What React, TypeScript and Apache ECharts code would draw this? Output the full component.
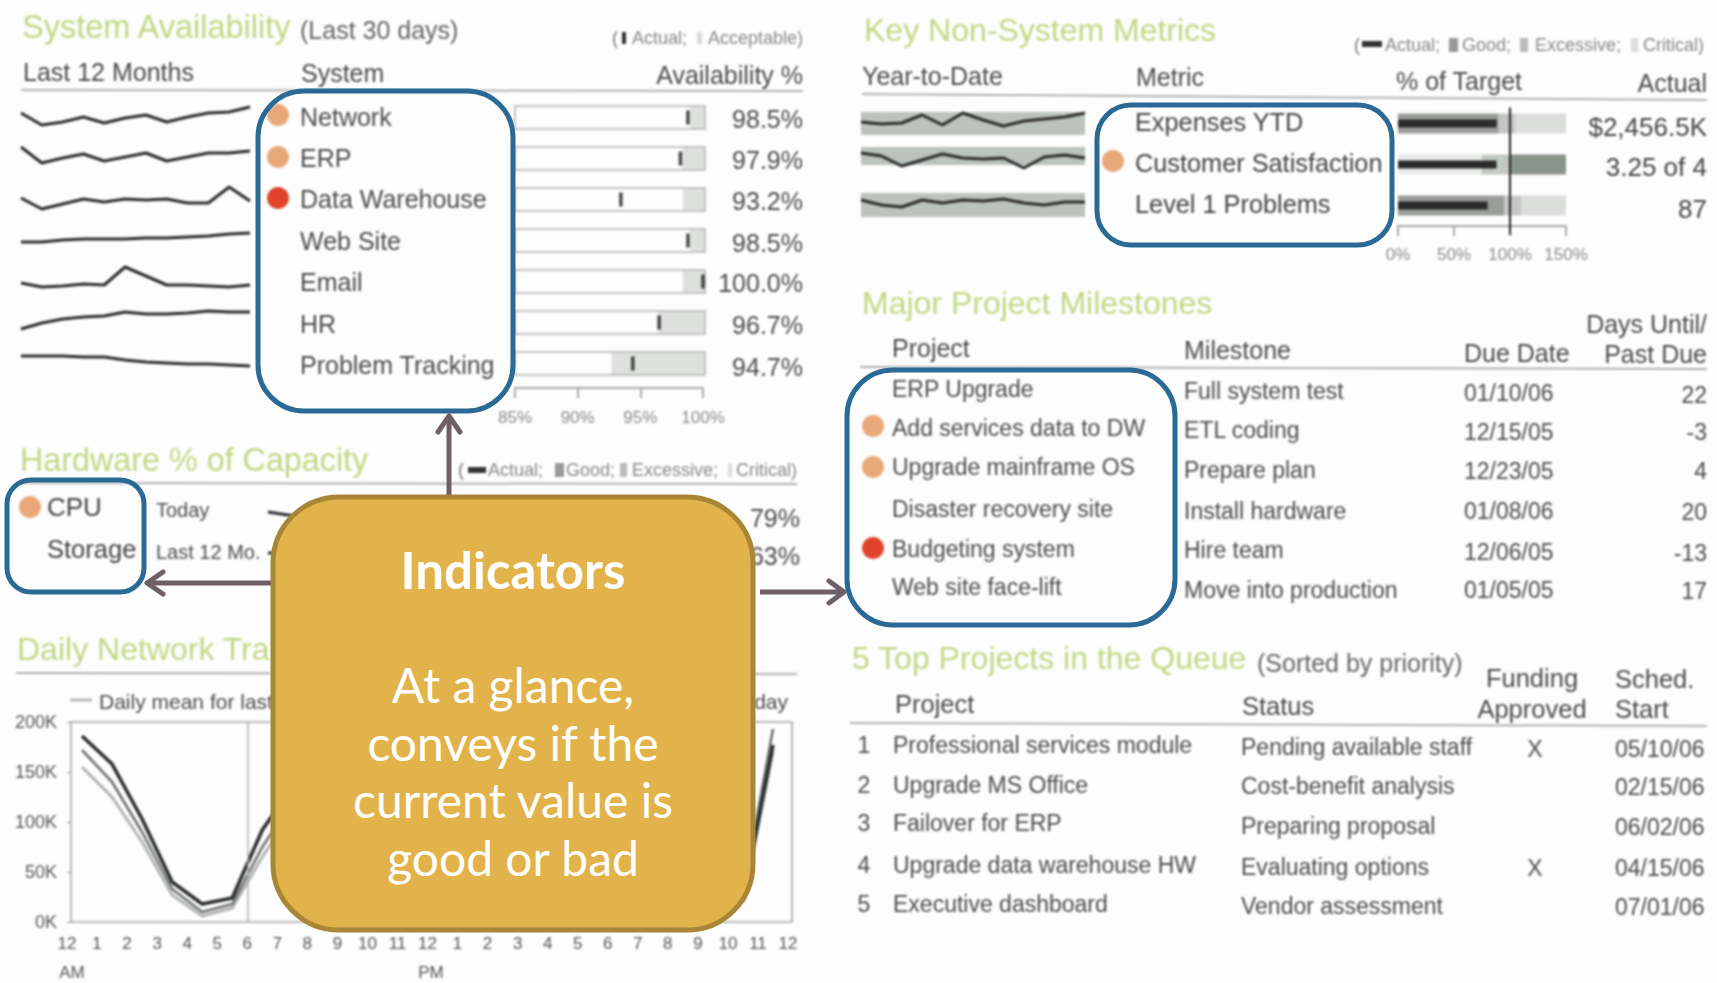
import React, { useEffect, useRef } from "react";
import * as echarts from "echarts";

// ---------- data ----------
const systems = ["Network", "ERP", "Data Warehouse", "Web Site", "Email", "HR", "Problem Tracking"];
const availability = [98.8, 98.2, 93.45, 98.8, 100.0, 96.5, 94.4];
const availabilityLabels = ["98.5%", "97.9%", "93.2%", "98.5%", "100.0%", "96.7%", "94.7%"];
const acceptableFrom = [99, 98.4, 98.4, 99, 98.4, 96.4, 92.7];
const availTicks = [85, 90, 95, 100];
const sysTrends = [
  [47, 35, 38, 43, 37, 42, 45, 38, 43, 47, 48, 53],
  [33, 17, 22, 26, 19, 23, 27, 19, 23, 27, 27, 29],
  [22, 11, 16, 21, 18, 21, 20, 21, 17, 17, 33, 19],
  [18, 18, 20, 21, 21, 21, 22, 22, 23, 24, 26, 27],
  [17, 13, 14, 16, 15, 33, 24, 15, 15, 14, 13, 15],
  [11, 17, 21, 23, 24, 28, 26, 26, 27, 29, 28, 28],
  [24, 24, 24, 23, 23, 20, 18, 17, 16, 16, 15, 14],
];
const metrics = ["Expenses YTD", "Customer Satisfaction", "Level 1 Problems"];
const metricActualText = ["$2,456.5K", "3.25 of 4", "87"];
const metricPct = [88, 88, 80];
const metricSegA = [90, 75, 95];
const metricSegB = [15, 25, 15];
const metricSegC = [45, 50, 40];
const metricTrends = [
  [28, 26, 27, 35, 25, 37, 30, 24, 29, 31, 33, 37],
  [37, 34, 24, 30, 36, 32, 31, 32, 22, 33, 35, 32],
  [40, 35, 33, 40, 37, 40, 39, 41, 37, 35, 38, 38],
];
const metricBands = [[15, 38], [25, 43], [23, 47]];
const cpuToday = [36, 30, 26, 24];
const storageYear = [30, 30, 29, 31];
const hourLabels = ["12", "1", "2", "3", "4", "5", "6", "7", "8", "9", "10", "11", "12", "1", "2", "3", "4", "5", "6", "7", "8", "9", "10", "11", "12"];
const trafficDark = [186, 158, 103, 40, 18, 24, 92, 135, 150, 160, 165, 170, 160, 165, 170, 165, 155, 140, 130, 135, 145, 125, 22, 177];
const trafficMid = [172, 140, 90, 33, 10, 18, 75, 120, 140, 150, 155, 160, 152, 155, 160, 155, 145, 132, 122, 125, 135, 115, 28, 193];
const trafficLight = [155, 125, 80, 27, 6, 14, 65, 110, 130, 140, 145, 150, 142, 145, 150, 145, 135, 122, 112, 115, 125, 105, 20, 170];
const trafficTicks = [0, 50, 100, 150, 200];
const mileProjects = ["ERP Upgrade", "Add services data to DW", "Upgrade mainframe OS", "Disaster recovery site", "Budgeting system", "Web site face-lift"];
const mileNames = ["Full system test", "ETL coding", "Prepare plan", "Install hardware", "Hire team", "Move into production"];
const mileDates = ["01/10/06", "12/15/05", "12/23/05", "01/08/06", "12/06/05", "01/05/05"];
const mileDays = ["22", "-3", "4", "20", "-13", "17"];
const queueProjects = ["Professional services module", "Upgrade MS Office", "Failover for ERP", "Upgrade data warehouse HW", "Executive dashboard"];
const queueStatus = ["Pending available staff", "Cost-benefit analysis", "Preparing proposal", "Evaluating options", "Vendor assessment"];
const queueFunding = ["X", "", "", "X", ""];
const queueStart = ["05/10/06", "02/15/06", "06/02/06", "04/15/06", "07/01/06"];
const calloutLines = ["At a glance,", "conveys if the", "current value is", "good or bad"];

// ---------- layout & style ----------
const W = 1717, H = 983;
const SANS = "Liberation Sans";
const TITLE = "#c2d883", TEXT = "#4c4c4c", ORANGE = "#e9a878", RED = "#e0432b", RULE = "#b0b2b0";
const BLUE = "#2a6a94", ARROW = "#6e5f67";

function T(text: string, x: number, y: number, size: number, fill = TEXT, align = "left", extra: any = {}) {
  return {
    type: "text", x, y, silent: true,
    style: { text, fontSize: size, fontFamily: SANS, fill, align, verticalAlign: "middle", ...extra },
  };
}
const Dot = (x: number, y: number, fill: string) => ({
  type: "circle", silent: true, shape: { cx: x, cy: y, r: 11 }, style: { fill },
});
const Rule = (x1: number, y1: number, x2: number, y2: number) => ({
  type: "line", silent: true, shape: { x1, y1, x2, y2 }, style: { stroke: RULE, lineWidth: 2 },
});
const Box = (x: number, y: number, w: number, h: number, fill: string) => ({
  type: "rect", silent: true, shape: { x, y, width: w, height: h }, style: { fill },
});

function dashboardOption() {
  const grid: any[] = [], xAxis: any[] = [], yAxis: any[] = [], series: any[] = [];
  const hiddenLine = (left: number, width: number, bottomY: number, data: number[], band?: number[]) => {
    grid.push({ left, width, top: bottomY - 60, height: 60 });
    const idx = grid.length - 1;
    xAxis.push({ gridIndex: idx, type: "category", show: false, boundaryGap: false, data: data.map((_, i) => i) });
    yAxis.push({ gridIndex: idx, type: "value", show: false, min: 0, max: 60 });
    series.push({
      type: "line", xAxisIndex: idx, yAxisIndex: idx, data, symbol: "none", silent: true,
      lineStyle: { color: "#2e2e2e", width: 3 },
      ...(band ? { markArea: { silent: true, itemStyle: { color: "#bcc2bc" }, data: [[{ yAxis: band[0] }, { yAxis: band[1] }]] } } : {}),
    });
  };

  // System availability sparklines
  const sysBottoms = [160, 180, 220, 260, 300, 340, 380];
  sysTrends.forEach((d, i) => hiddenLine(21, 229, sysBottoms[i], d));
  // Non-system sparklines
  const metBottoms = [150, 190, 240];
  metricTrends.forEach((d, i) => hiddenLine(861, 224, metBottoms[i], d, metricBands[i]));
  // Hardware sparklines, mostly behind the callout
  hiddenLine(268, 120, 548, cpuToday);
  hiddenLine(268, 120, 583, storageYear);

  // Availability bullets
  grid.push({ left: 515, width: 188, top: 97, height: 287 });
  let g = grid.length - 1;
  xAxis.push({
    gridIndex: g, type: "value", min: 85, max: 100, interval: 5, offset: 4,
    axisLine: { show: true, lineStyle: { color: "#aaa", width: 2 } },
    axisTick: { show: true, length: 10, lineStyle: { color: "#aaa", width: 2 } },
    splitLine: { show: false },
    axisLabel: { margin: 21, fontSize: 17, color: "#8a8a8a", fontFamily: SANS, formatter: (v: number) => (availTicks.includes(v) ? `${v}%` : "") },
  });
  yAxis.push({ gridIndex: g, type: "category", show: false, inverse: true, data: systems });
  series.push({
    type: "custom", xAxisIndex: g, yAxisIndex: g, silent: true, encode: { x: 0, y: 1 },
    data: acceptableFrom.map((v, i) => [v, i]),
    renderItem: (_: any, api: any) => {
      const c = api.value(1);
      const [x0, y] = api.coord([85, c]);
      const [x1] = api.coord([100, c]);
      const [xs] = api.coord([api.value(0), c]);
      return {
        type: "group",
        children: [
          { type: "rect", shape: { x: xs, y: y - 11.5, width: x1 - xs + 2, height: 23 }, style: { fill: "#dde0dd" } },
          { type: "rect", shape: { x: x0, y: y - 11.5, width: x1 - x0 + 2, height: 23 }, style: { fill: "none", stroke: "#c2c4c2", lineWidth: 2 } },
        ],
      };
    },
  });
  series.push({
    type: "scatter", xAxisIndex: g, yAxisIndex: g, silent: true, symbol: "rect", symbolSize: [3.5, 14],
    itemStyle: { color: "#1c1c1c" }, data: availability.map((v, i) => [v, systems[i]]),
  });

  // Metric bullets
  grid.push({ left: 1398, width: 168, top: 103, height: 123 });
  g = grid.length - 1;
  xAxis.push({
    gridIndex: g, type: "value", min: 0, max: 150, interval: 50,
    axisLine: { show: true, lineStyle: { color: "#aaa", width: 2 } },
    axisTick: { show: true, length: 10, lineStyle: { color: "#aaa", width: 2 } },
    splitLine: { show: false },
    axisLabel: { margin: 20, fontSize: 17, color: "#8a8a8a", fontFamily: SANS, formatter: "{value}%" },
  });
  yAxis.push({ gridIndex: g, type: "category", show: false, inverse: true, data: metrics });
  const seg = (name: string, vals: number[], pick: (i: number) => string) => ({
    type: "bar", name, stack: "range", xAxisIndex: g, yAxisIndex: g, barWidth: 20, silent: true,
    data: vals.map((v, i) => ({ value: v, itemStyle: { color: pick(i) } })),
  });
  series.push(seg("Good", metricSegA, (i) => (i === 1 ? "#e8eae8" : "#9a9d9a")));
  series.push(seg("Excessive", metricSegB, (i) => (i === 1 ? "#c2c8c2" : "#c4c6c4")));
  series.push(seg("Critical", metricSegC, (i) => (i === 1 ? "#89948a" : "#dcdedc")));
  series.push({
    type: "custom", name: "Actual", xAxisIndex: g, yAxisIndex: g, silent: true, encode: { x: 0, y: 1 }, z: 5,
    data: metricPct.map((v, i) => [v, i]),
    renderItem: (_: any, api: any) => {
      const c = api.value(1);
      const [x0, y] = api.coord([0, c]);
      const [x1] = api.coord([api.value(0), c]);
      return { type: "rect", shape: { x: x0, y: y - 4, width: x1 - x0, height: 8 }, style: { fill: "#2b2b2b" } };
    },
  });
  series.push({
    type: "custom", name: "Target", xAxisIndex: g, yAxisIndex: g, silent: true, encode: { x: 0 }, z: 6,
    data: [[100]],
    renderItem: (_: any, api: any) => {
      const [x, y] = api.coord([api.value(0), 0]);
      return { type: "line", shape: { x1: x, y1: y - 16, x2: x, y2: y + 111 }, style: { stroke: "#222", lineWidth: 2 } };
    },
  });

  // Network traffic
  grid.push({ left: 67, width: 721, top: 722, height: 200 });
  g = grid.length - 1;
  xAxis.push({
    gridIndex: g, type: "value", min: 0, max: 24, interval: 1,
    axisLine: { show: false }, axisTick: { show: false }, splitLine: { show: false },
    axisLabel: {
      margin: 13, fontSize: 17, color: "#555", fontFamily: SANS, showMinLabel: true, showMaxLabel: true,
      formatter: (v: number) => hourLabels[v] ?? "",
    },
  });
  yAxis.push({
    gridIndex: g, type: "value", min: 0, max: 200, interval: 50, splitLine: { show: false }, offset: -4,
    axisLine: { show: true, lineStyle: { color: "#b8b8b8", width: 2 } },
    axisTick: { show: true, length: 4, lineStyle: { color: "#999" } },
    axisLabel: {
      margin: 14, fontSize: 18, color: "#555", fontFamily: SANS,
      formatter: (v: number) => (trafficTicks.includes(v) ? `${v}K` : ""),
    },
  });
  const traffic = (name: string, data: number[], color: string, width: number, extra: any = {}) => ({
    type: "line", name, xAxisIndex: g, yAxisIndex: g, symbol: "none", silent: true,
    lineStyle: { color, width }, data: data.map((v, i) => [i + 0.5, v]), ...extra,
  });
  series.push(traffic("Daily mean for last 30 days", trafficLight, "#b0b4b0", 3, {
    markLine: {
      silent: true, symbol: "none", label: { show: false },
      lineStyle: { color: "#b0b0b0", width: 1.5, type: "solid" },
      data: [{ xAxis: 6 }, { xAxis: 12 }, { xAxis: 18 }],
    },
  }));
  series.push(traffic("Yesterday", trafficMid, "#6e726e", 2.6));
  series.push(traffic("Today", trafficDark, "#2a2e2c", 3.6));

  // ---------- texts ----------
  const els: any[] = [];
  // Traffic frame
  els.push({
    type: "rect", silent: true, shape: { x: 71, y: 722, width: 721, height: 200 },
    style: { fill: "none", stroke: "#b8b8b8", lineWidth: 2 },
  });
  // System availability
  els.push(T("System Availability", 22, 27, 32.5, TITLE));
  els.push(T("(Last 30 days)", 300, 30, 25, "#666"));
  els.push(T("(", 612, 38, 18, "#777"), Box(622, 32, 4, 12, "#333"), T("Actual;", 632, 38, 18, "#888"), Box(697, 32, 5, 12, "#dadada"), T("Acceptable)", 708, 38, 18, "#888"));
  els.push(T("Last 12 Months", 23, 72, 25), T("System", 301, 73, 25), T("Availability %", 803, 75, 25, TEXT, "right"));
  els.push(Rule(21, 90, 803, 91));
  const sysNameY = [117, 158, 199, 241, 282, 324, 365];
  const pctY = [119, 160, 201, 243, 283, 325, 367];
  systems.forEach((s, i) => {
    els.push(T(s, 300, sysNameY[i], 25));
    els.push(T(availabilityLabels[i], 803, pctY[i], 25, TEXT, "right"));
  });
  els.push(Dot(278, 115, ORANGE), Dot(278, 157, ORANGE), Dot(278, 198, RED));

  // Hardware
  els.push(T("Hardware % of Capacity", 20, 460, 32.3, TITLE));
  els.push(T("(", 458, 470, 18, "#777"), Box(468, 467, 18, 6, "#333"), T("Actual;", 488, 470, 18, "#888"),
    Box(555, 463, 9, 14, "#999"), T("Good;", 566, 470, 18, "#888"), Box(620, 463, 7, 14, "#bbb"),
    T("Excessive;", 632, 470, 18, "#888"), Box(728, 463, 4, 14, "#ddd"), T("Critical)", 736, 470, 18, "#888"));
  els.push(Rule(20, 483, 797, 484));
  els.push(T("CPU", 47, 507, 26, "#444"), T("Storage", 47, 549, 25.5, "#444"));
  els.push(T("Today", 156, 510, 20), T("Last 12 Mo.", 156, 552, 20));
  els.push(T("79%", 800, 518, 25, TEXT, "right"), T("63%", 800, 556, 25, TEXT, "right"));
  els.push(Dot(30, 507, ORANGE));

  // Network
  els.push(T("Daily Network Traffic", 17, 649, 32, TITLE));
  els.push(Rule(16, 673, 797, 674));
  els.push({ type: "line", silent: true, shape: { x1: 70, y1: 700, x2: 92, y2: 700 }, style: { stroke: "#b6bab6", lineWidth: 3 } });
  els.push(T("Daily mean for last 30 days", 99, 701, 21), T("Today", 788, 701, 21, TEXT, "right"));
  els.push(T("AM", 72, 972, 17, "#555", "center"), T("PM", 431, 972, 17, "#555", "center"));

  // Key metrics
  els.push(T("Key Non-System Metrics", 864, 30, 32, TITLE));
  els.push(T("(", 1354, 45, 18, "#777"), Box(1362, 41, 20, 6, "#333"), T("Actual;", 1385, 45, 18, "#888"),
    Box(1449, 38, 9, 14, "#999"), T("Good;", 1462, 45, 18, "#888"), Box(1520, 38, 8, 14, "#bbb"),
    T("Excessive;", 1535, 45, 18, "#888"), Box(1631, 38, 7, 14, "#ddd"), T("Critical)", 1643, 45, 18, "#888"));
  els.push(T("Year-to-Date", 862, 76, 25), T("Metric", 1136, 77, 25), T("% of Target", 1396, 81, 25), T("Actual", 1707, 83, 25, TEXT, "right"));
  els.push(Rule(862, 94, 1707, 100));
  const metricY = [122, 163, 204], metricValY = [127, 167, 209];
  metrics.forEach((m, i) => {
    els.push(T(m, 1135, metricY[i], 25.3, "#444"));
    els.push(T(metricActualText[i], 1707, metricValY[i], 26, "#444", "right"));
  });
  els.push(Dot(1113, 161, ORANGE));

  // Milestones
  els.push(T("Major Project Milestones", 862, 303, 32, TITLE));
  els.push(T("Project", 892, 348, 25), T("Milestone", 1184, 350, 25), T("Due Date", 1464, 353, 25),
    T("Days Until/", 1707, 324, 25, TEXT, "right"), T("Past Due", 1707, 354, 25, TEXT, "right"));
  els.push(Rule(860, 367, 1707, 369));
  const mpY = [389, 428, 467, 509, 549, 587], mnY = [391, 430, 470, 511, 550, 590];
  const mdY = [393, 432, 471, 511, 552, 590], myY = [395, 432, 471, 512, 553, 591];
  mileProjects.forEach((p, i) => {
    els.push(T(p, 892, mpY[i], 23), T(mileNames[i], 1184, mnY[i], 23), T(mileDates[i], 1464, mdY[i], 23), T(mileDays[i], 1707, myY[i], 23, TEXT, "right"));
  });
  els.push(Dot(873, 426, ORANGE), Dot(873, 467, ORANGE), Dot(873, 548, RED));

  // Queue
  els.push(T("5 Top Projects in the Queue", 852, 658, 32, TITLE), T("(Sorted by priority)", 1257, 663, 25, "#666"));
  els.push(T("Project", 895, 704, 25.5), T("Status", 1242, 706, 25.5), T("Funding", 1532, 678, 25.5, TEXT, "center"), T("Approved", 1532, 709, 25.5, TEXT, "center"),
    T("Sched.", 1615, 679, 25.5), T("Start", 1615, 709, 25.5));
  els.push(Rule(850, 723, 1707, 726));
  const qnY = [745, 785, 823, 865, 904], qsY = [747, 786, 826, 867, 906], qdY = [749, 787, 827, 868, 907];
  queueProjects.forEach((p, i) => {
    els.push(T(String(i + 1), 864, qnY[i], 23, TEXT, "center"), T(p, 893, qnY[i], 23), T(queueStatus[i], 1241, qsY[i], 23), T(queueStart[i], 1615, qdY[i], 23));
    if (queueFunding[i]) els.push(T(queueFunding[i], 1535, qdY[i], 23, TEXT, "center"));
  });

  return {
    animation: false, backgroundColor: "#fdfdfd", grid, xAxis, yAxis, series,
    graphic: { elements: els },
  };
}

function overlayOption() {
  const roundBox = (x: number, y: number, w: number, h: number, r: number) => ({
    type: "rect", silent: true, shape: { x, y, width: w, height: h, r },
    style: { fill: "none", stroke: BLUE, lineWidth: 5 },
  });
  const shaft = (x1: number, y1: number, x2: number, y2: number) => ({
    type: "line", silent: true, shape: { x1, y1, x2, y2 }, style: { stroke: ARROW, lineWidth: 5 },
  });
  const head = (points: number[][]) => ({
    type: "polyline", silent: true, shape: { points },
    style: { fill: "none", stroke: ARROW, lineWidth: 5, lineCap: "round", lineJoin: "round" },
  });
  const els: any[] = [
    roundBox(258, 91, 255, 320, 46),
    roundBox(7, 480, 137, 112, 24),
    roundBox(1097, 105, 295, 140, 34),
    roundBox(847, 370, 328, 255, 46),
    shaft(449, 500, 449, 418), head([[438, 432], [449, 416], [460, 432]]),
    shaft(280, 583, 149, 583), head([[163, 572], [147, 583], [163, 594]]),
    shaft(760, 592, 841, 592), head([[829, 581], [844, 592], [829, 603]]),
    {
      type: "rect", silent: true, shape: { x: 273, y: 497, width: 480, height: 433, r: 66 },
      style: { fill: "#e3b34b", stroke: "#a98536", lineWidth: 5 },
    },
    {
      type: "text", silent: true, x: 513, y: 569,
      style: { text: "Indicators", fontFamily: "Lato", fontWeight: "bold", fontSize: 51, fill: "#fff", align: "center", verticalAlign: "middle" },
    },
  ];
  const lineY = [684, 742, 799, 857];
  calloutLines.forEach((l, i) => {
    els.push({
      type: "text", silent: true, x: 513, y: lineY[i],
      style: { text: l, fontFamily: "Lato", fontSize: 48, fill: "#fff", align: "center", verticalAlign: "middle" },
    });
  });
  return { animation: false, graphic: { elements: els } };
}

export default function App() {
  const base = useRef<HTMLDivElement>(null);
  const over = useRef<HTMLDivElement>(null);
  useEffect(() => {
    const a = echarts.init(base.current!, undefined, { renderer: "svg" });
    const b = echarts.init(over.current!, undefined, { renderer: "svg" });
    a.setOption(dashboardOption() as any);
    b.setOption(overlayOption() as any);
    return () => { a.dispose(); b.dispose(); };
  }, []);
  const box: React.CSSProperties = { position: "fixed", left: 0, top: 0, width: W, height: H };
  return (
    <div style={{ ...box, overflow: "hidden", background: "#fdfdfd" }}>
      <div ref={base} style={{ ...box, filter: "blur(0.9px)" }} />
      <div ref={over} style={box} />
    </div>
  );
}
